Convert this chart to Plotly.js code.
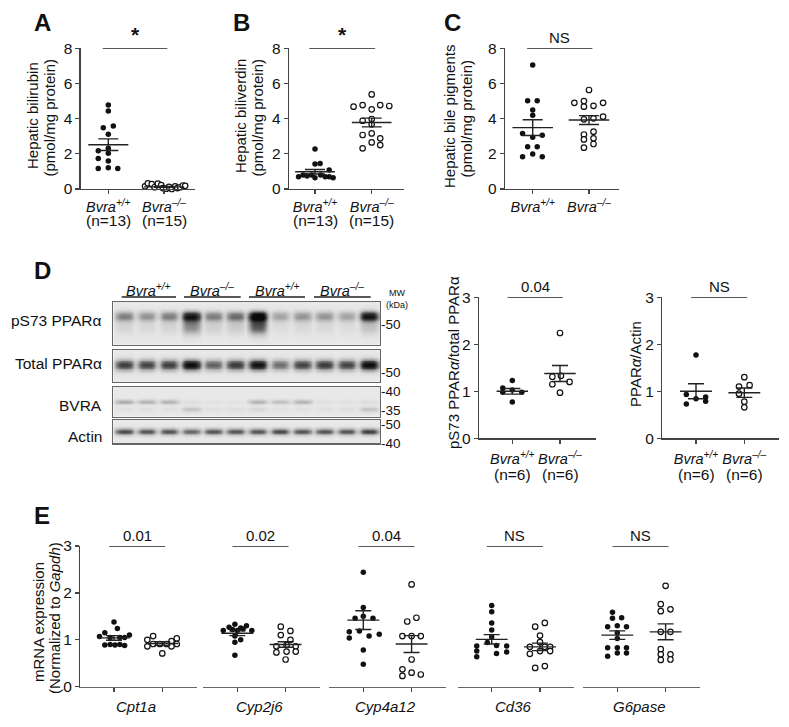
<!DOCTYPE html>
<html><head><meta charset="utf-8">
<script src="https://cdn.plot.ly/plotly-3.0.1.min.js"></script>
<style>body{margin:0;background:#fff}#chart{width:789px;height:727px}</style>
</head><body><div id="chart"></div>
<script>
// ---------------- DATA ----------------
const catLabels = ['<i>Bvra<sup>+/+</sup></i>', '<i>Bvra<sup>–/–</sup></i>'];

// Panel A: hepatic bilirubin
const A_wt = [4.77,4.43,3.48,3.58,3.11,2.31,2.18,2.03,1.74,1.59,1.17,1.21,1.17];
const A_wtJit = [0,0,-0.09,0.09,0,0,-0.18,0,-0.18,0,-0.18,0,0.17];
const A_ko = [0.15,0.32,0.28,0.1,0.3,0.22,0.05,0.02,0.12,0.0,0.15,0.05,0.1,0.2,0.18];
const A_koJit = [-0.34,-0.29,-0.22,-0.17,-0.11,-0.05,-0.02,0.04,0.09,0.14,0.2,0.24,0.29,0.34,0.38];
const A_mean = [2.52, 0.12], A_sem = [0.33, 0.03];
const A_n = ['(n=13)', '(n=15)'];

// Panel B: hepatic biliverdin
const B_wt = [2.27,1.42,1.45,1.08,0.7,0.8,0.74,0.8,0.64,0.8,0.7,0.7,0.64];
const B_wtJit = [0,0,0.09,0.25,-0.29,-0.21,-0.14,-0.06,0,0.1,0.18,0.25,0.32];
const B_ko = [5.38,4.68,4.77,4.53,4.77,4.72,3.88,3.98,3.68,3.07,3.16,2.88,2.65,2.5,2.31];
const B_koJit = [0,-0.32,-0.16,0,0.15,0.31,-0.16,0,0,-0.16,0,0.15,0,0.15,-0.16];
const B_mean = [0.98, 3.78], B_sem = [0.13, 0.25];
const B_n = ['(n=13)', '(n=15)'];

// Panel C: hepatic bile pigments
const C_wt = [7.05,5.02,5.02,4.49,4.2,3.16,2.94,3.05,2.40,2.40,1.84,1.99,1.84];
const C_wtJit = [0,-0.09,0.08,0,0,-0.18,0,0.17,-0.09,0.08,-0.18,0,0.17];
const C_ko = [5.63,4.9,5.0,4.68,4.73,4.9,3.96,4.02,4.11,3.1,3.26,2.82,2.88,2.35,2.56];
const C_koJit = [0,-0.26,-0.09,-0.09,0.08,0.25,-0.09,0.08,0.25,-0.09,0.08,-0.09,0.08,-0.09,0.08];
const C_mean = [3.49, 3.92], C_sem = [0.45, 0.25];

// Panel D quantification
const D1_wt = [1.23,1.07,0.98,1.03,0.98,0.77];
const D1_wtJit = [0,-0.2,-0.2,0,0.2,0];
const D1_ko = [2.24,1.31,1.33,1.2,1.15,0.97];
const D1_koJit = [0,-0.16,0.02,0.2,-0.16,0];
const D1_mean = [1.0, 1.38], D1_sem = [0.06, 0.17];
const D2_wt = [1.77,0.73,0.84,0.79,0.93,0.88];
const D2_wtJit = [0,-0.2,0,0.2,-0.2,0.2];
const D2_ko = [1.3,1.1,1.13,0.95,0.78,0.66];
const D2_koJit = [0,-0.11,0.11,-0.11,0,0];
const D2_mean = [1.0, 0.97], D2_sem = [0.16, 0.1];
const D_n = ['(n=6)', '(n=6)'];

// Western blot lane intensities (12 lanes: WT x3, KO x3, WT x3, KO x3)
const blotRows = ['pS73 PPARα', 'Total PPARα', 'BVRA', 'Actin'];
const pS73Band  = [0.42,0.35,0.42, 0.8,0.42,0.48, 0.95,0.3,0.35, 0.35,0.3,0.85];
const pS73Smear = [0.1,0.08,0.1, 0.42,0.12,0.15, 0.6,0.06,0.08, 0.08,0.06,0.2];
const totalBand = [0.68,0.66,0.68, 0.95,0.55,0.7, 0.92,0.5,0.66, 0.7,0.66,0.95];
const bvraBand  = [0.32,0.28,0.28, 0.05,0.03,0.03, 0.28,0.22,0.28, 0.04,0.04,0.06];
const bvraLower = [0.04,0.04,0.04, 0.18,0.04,0.04, 0.08,0.04,0.04, 0.04,0.04,0.18];
const actinBand = [0.62,0.58,0.58, 0.52,0.58,0.58, 0.58,0.62,0.58, 0.58,0.58,0.65];
const blotGroups = ['<i>Bvra<sup>+/+</sup></i>','<i>Bvra<sup>–/–</sup></i>','<i>Bvra<sup>+/+</sup></i>','<i>Bvra<sup>–/–</sup></i>'];

// Panel E: mRNA expression
const genes = ['Cpt1a','Cyp2j6','Cyp4a12','Cd36','G6pase'];
const E_pvals = ['0.01','0.02','0.04','NS','NS'];
const E_wt = [
  [1.38,1.24,1.15,1.07,1.05,1.05,1.1,1.05,0.89,0.9,0.89,0.9,0.88],
  [1.33,1.27,1.25,1.3,1.2,1.2,1.22,1.2,1.23,1.08,1.0,0.95,0.67],
  [2.44,1.69,1.46,1.5,1.46,1.17,1.19,1.04,1.08,1.12,0.78,0.48],
  [1.73,1.6,1.36,1.21,1.06,0.94,0.87,0.88,0.87,0.76,0.71,0.74,0.64],
  [1.59,1.46,1.47,1.28,1.3,1.28,1.15,1.03,0.83,0.83,0.83,0.65,0.72,0.72]
];
const E_wtJit = [
  [0,0.07,-0.19,-0.3,-0.08,0.12,0.32,0.22,-0.19,-0.08,0.02,0.12,0.22],
  [-0.05,-0.17,0.07,0.19,-0.29,0.3,-0.1,0,0.12,-0.05,0.07,-0.05,-0.05],
  [0,0,-0.17,0,0.2,-0.29,-0.08,-0.29,0.12,0.33,0,0],
  [0,0,0,0,0,-0.09,-0.31,0.1,0.31,-0.31,0.1,0.31,-0.31],
  [-0.1,-0.1,0.09,-0.2,0,0.19,0,0,-0.2,0,0.19,-0.2,0,0.19]
];
const E_ko = [
  [1.08,1.0,0.97,1.03,0.86,0.91,0.91,0.91,0.86,0.91,0.71],
  [1.28,1.19,1.1,1.0,0.86,0.89,0.86,0.73,0.75,0.75,0.58],
  [2.18,1.39,1.47,1.08,1.08,1.08,0.58,0.37,0.23,0.3,0.26],
  [1.28,1.36,1.09,0.95,0.85,0.85,0.85,0.7,0.76,0.76,0.4,0.44],
  [2.15,1.76,1.61,1.65,1.17,1.17,0.8,0.69,0.57,0.69,0.58]
];
const E_koJit = [
  [-0.19,-0.31,0.19,0.3,-0.31,-0.19,-0.05,0.09,0.19,0.3,0],
  [-0.1,0.1,-0.1,0.1,-0.19,0.02,0.21,-0.19,0.02,0.21,0],
  [0,-0.09,0.1,-0.19,0,0.19,0,-0.19,-0.19,0,0.19],
  [-0.1,0.1,0,0,-0.21,0.1,0.21,-0.21,0,0.21,-0.1,0.1],
  [0,-0.1,-0.1,0.1,-0.1,0.1,-0.1,-0.1,-0.1,0.1,0.1]
];
const E_mean = [[1.04,0.92],[1.14,0.90],[1.42,0.91],[1.01,0.85],[1.10,1.17]];
const E_sem  = [[0.05,0.04],[0.05,0.06],[0.2,0.18],[0.1,0.08],[0.09,0.17]];

// ---------------- LAYOUT HELPERS ----------------
const W = 789, H = 727;
const FX = p => p / W, FY = p => 1 - p / H;
const FONT = 'Liberation Sans, Arial, sans-serif';
const AX = '#444';
const traces = [], annotations = [], shapes = [];
const layout = {
  width: W, height: H, margin: {l:0, r:0, t:0, b:0},
  paper_bgcolor: '#fff', plot_bgcolor: 'rgba(0,0,0,0)', showlegend: false,
  font: {family: FONT, size: 14, color: '#111'}
};

function ann(text, x, y, opts) {
  annotations.push(Object.assign({text, x: FX(x), y: FY(y), xref: 'paper', yref: 'paper',
    showarrow: false, xanchor: 'center', yanchor: 'middle', font: {family: FONT, size: 14, color: '#111'}}, opts || {}));
}

function xAxisCfg(left, right, range, anchor, ticktext, standoff) {
  const c = {domain: [FX(left), FX(right)], range, anchor, showline: true, linecolor: AX, linewidth: 1.3,
    ticks: 'outside', ticklen: 4, tickwidth: 1.3, tickcolor: AX, tickvals: [0, 1], showgrid: false, zeroline: false,
    fixedrange: true, tickfont: {family: FONT, size: 14.5, color: '#111'}};
  if (ticktext) { c.ticktext = ticktext; } else { c.showticklabels = false; }
  if (standoff) c.ticklabelstandoff = standoff;
  return c;
}
function yAxisCfg(top, bottom, ymax, dtick, anchor) {
  return {domain: [FY(bottom), FY(top)], range: [0, ymax], anchor, showline: true, linecolor: AX, linewidth: 1.3,
    ticks: 'outside', ticklen: 4, tickwidth: 1.3, tickcolor: AX, dtick, tick0: 0, showgrid: false, zeroline: false,
    fixedrange: true, tickfont: {family: FONT, size: 15.5, color: '#111'}};
}

function addGroups(xa, ya, wt, wtJit, ko, koJit, means, sems, half, cap, ymaxSig, sigText, sigFont) {
  traces.push({type: 'scatter', mode: 'markers', xaxis: xa, yaxis: ya, cliponaxis: false,
    x: wt.map((v, i) => 0 + wtJit[i]), y: wt, marker: {color: '#111', size: 5.5, line: {width: 0}}});
  traces.push({type: 'scatter', mode: 'markers', xaxis: xa, yaxis: ya, cliponaxis: false,
    x: ko.map((v, i) => 1 + koJit[i]), y: ko, marker: {color: '#fff', size: 5.5, line: {color: '#111', width: 1.2}}});
  traces.push({type: 'scatter', mode: 'markers', xaxis: xa, yaxis: ya, cliponaxis: false,
    x: [0, 1], y: means, marker: {size: 1, opacity: 0},
    error_x: {type: 'constant', value: half, width: 0, thickness: 1.4, color: '#222'},
    error_y: {type: 'data', array: sems, width: cap, thickness: 1.4, color: '#222'}});
  traces.push({type: 'scatter', mode: 'lines', xaxis: xa, yaxis: ya, cliponaxis: false,
    x: [-0.1, 1.06], y: [ymaxSig, ymaxSig], line: {color: '#222', width: 1.4}});
  annotations.push({text: sigText, xref: xa, yref: ya, x: 0.48, y: ymaxSig, yanchor: 'bottom', xanchor: 'center',
    showarrow: false, yshift: 0, font: {family: FONT, size: sigFont || 15, color: '#111'}});
}

// ----- Panels A, B, C, D1, D2 -----
const sp = [
  {id: '', yl: 80.7, xr: 195, yt: 48.3, yb: 189, c0: 108.3, step: 55.7, ymax: 8, dtick: 2,
   d: [A_wt, A_wtJit, A_ko, A_koJit, A_mean, A_sem], half: 0.36, cap: 10, sig: '<b>*</b>', sigF: 21, n: A_n, nY: 220},
  {id: '2', yl: 289, xr: 404, yt: 48.3, yb: 189, c0: 315, step: 56.7, ymax: 8, dtick: 2,
   d: [B_wt, B_wtJit, B_ko, B_koJit, B_mean, B_sem], half: 0.35, cap: 10, sig: '<b>*</b>', sigF: 21, n: B_n, nY: 220},
  {id: '3', yl: 505, xr: 619, yt: 48.3, yb: 189, c0: 532.7, step: 56.3, ymax: 8, dtick: 2,
   d: [C_wt, C_wtJit, C_ko, C_koJit, C_mean, C_sem], half: 0.36, cap: 10, sig: 'NS', sigF: 15},
  {id: '4', yl: 479, xr: 596, yt: 297.3, yb: 438.3, c0: 512.3, step: 47.7, ymax: 3, dtick: 1,
   d: [D1_wt, D1_wtJit, D1_ko, D1_koJit, D1_mean, D1_sem], half: 0.33, cap: 8, sig: '0.04', sigF: 15, n: D_n, nY: 475, so: 3},
  {id: '5', yl: 662.3, xr: 779.3, yt: 297.3, yb: 438.3, c0: 696, step: 48.3, ymax: 3, dtick: 1,
   d: [D2_wt, D2_wtJit, D2_ko, D2_koJit, D2_mean, D2_sem], half: 0.33, cap: 8, sig: 'NS', sigF: 15, n: D_n, nY: 475, so: 3}
];
sp.forEach(p => {
  const xr = [(p.yl - p.c0) / p.step, (p.xr - p.c0) / p.step];
  layout['xaxis' + p.id] = xAxisCfg(p.yl, p.xr, xr, 'y' + p.id, catLabels, p.so);
  layout['yaxis' + p.id] = yAxisCfg(p.yt, p.yb, p.ymax, p.dtick, 'x' + p.id);
  addGroups('x' + p.id, 'y' + p.id, ...p.d, p.half, p.cap, p.ymax, p.sig, p.sigF);
  if (p.n) p.n.forEach((t, i) => ann(t, p.c0 + i * p.step, p.nY, {font: {family: FONT, size: 15.5, color: '#111'}}));
});

// ----- Panel E -----
const eC0 = [114, 237.3, 363.3, 491.7, 617.3], eStep = 48.3, eRange = [-0.70, 1.71];
layout.yaxis6 = yAxisCfg(546, 686.7, 3, 1, 'x6');
genes.forEach((g, i) => {
  const id = 6 + i;
  const left = eC0[i] + eRange[0] * eStep, right = eC0[i] + eRange[1] * eStep;
  layout['xaxis' + id] = xAxisCfg(left, right, eRange, 'y6', null);
  layout['xaxis' + id].linecolor = '#666';
  addGroups('x' + id, 'y6', E_wt[i], E_wtJit[i], E_ko[i], E_koJit[i], E_mean[i], E_sem[i], 0.33, 8, 3, E_pvals[i], 15);
  ann('<i>' + g + '</i>', eC0[i] + 0.45 * eStep, 706.7, {font: {family: FONT, size: 15, color: '#111'}});
});

// ----- Western blot heatmaps -----
function gauss(y, c, s) { return Math.exp(-0.5 * Math.pow((y - c) / s, 2)); }
function laneShape(u) { return Math.exp(-Math.pow((u - 0.5) / 0.44, 4)); }
function blotZ(bands, nRows) {
  const sub = 10, xs = [], ys = [], z = [];
  for (let l = 0; l < 12; l++) for (let k = 0; k < sub; k++) xs.push(l + (k + 0.5) / sub);
  for (let r = 0; r < nRows; r++) {
    const y = (r + 0.5) / nRows; ys.push(y);
    const row = [];
    for (let l = 0; l < 12; l++) for (let k = 0; k < sub; k++) {
      const u = (k + 0.5) / sub;
      let v = 0.06;
      bands.forEach(b => { v += b.int[l] * gauss(y, b.c, b.s) * laneShape(u); });
      row.push(Math.min(1, v));
    }
    z.push(row);
  }
  return {x: xs, y: ys, z};
}
const blotBoxes = [
  {top: 301.7, bottom: 345, bands: [{int: pS73Band, c: 0.33, s: 0.08}, {int: pS73Smear, c: 0.55, s: 0.14}], labY: 320},
  {top: 350, bottom: 381.7, bands: [{int: totalBand, c: 0.47, s: 0.12}], labY: 363},
  {top: 386.7, bottom: 416.7, bands: [{int: bvraBand, c: 0.5, s: 0.05}, {int: bvraLower, c: 0.75, s: 0.06}], labY: 405},
  {top: 420, bottom: 443.3, bands: [{int: actinBand, c: 0.5, s: 0.1}], labY: 436.7}
];
blotBoxes.forEach((b, i) => {
  const id = 11 + i;
  const hz = blotZ(b.bands, 40);
  traces.push({type: 'heatmap', xaxis: 'x' + id, yaxis: 'y' + id, x: hz.x, y: hz.y, z: hz.z, zmin: 0, zmax: 1,
    zsmooth: 'best', showscale: false, hoverinfo: 'skip',
    colorscale: [[0, '#f4f4f4'], [0.3, '#b8b8b8'], [0.7, '#454545'], [1, '#0a0a0a']]});
  const axc = {showline: true, mirror: true, linecolor: '#666', linewidth: 1.2, ticks: '', showticklabels: false,
    showgrid: false, zeroline: false, fixedrange: true};
  layout['xaxis' + id] = Object.assign({domain: [FX(113.3), FX(380)], range: [0, 12], anchor: 'y' + id}, axc);
  layout['yaxis' + id] = Object.assign({domain: [FY(b.bottom), FY(b.top)], range: [1, 0], anchor: 'x' + id}, axc);
  ann(blotRows[i], 104, b.labY, {xanchor: 'right', font: {family: FONT, size: 15.5, color: '#111'}});
});
// group labels above blot
const grpX = [[121.7, 176], [184, 240.7], [249, 305], [314, 370.7]];
grpX.forEach((g, i) => {
  ann(blotGroups[i], (g[0] + g[1]) / 2, 290, {font: {family: FONT, size: 14.5, color: '#111'}});
  shapes.push({type: 'line', xref: 'paper', yref: 'paper', x0: FX(g[0]), x1: FX(g[1]), y0: FY(297), y1: FY(297),
    line: {color: '#222', width: 1.4}});
});
// MW markers
ann('MW', 397, 293, {font: {family: FONT, size: 9, color: '#111'}});
ann('(kDa)', 397, 305, {font: {family: FONT, size: 9, color: '#111'}});
[['-50', 324], ['-50', 373], ['-40', 391], ['-35', 410], ['-50', 424], ['-40', 443.5]].forEach(m =>
  ann(m[0], 379, m[1], {xanchor: 'left', font: {family: FONT, size: 13.5, color: '#111'}}));

// ----- Axis titles (y) -----
const rot = {textangle: -90, font: {family: FONT, size: 15, color: '#111'}};
ann('Hepatic bilirubin', 33, 116, rot);
ann('(pmol/mg protein)', 48.5, 118, rot);
ann('Hepatic biliverdin', 241, 116, rot);
ann('(pmol/mg protein)', 256.5, 118, rot);
ann('Hepatic bile pigments', 450, 117, rot);
ann('(pmol/mg protein)', 465.5, 118, rot);
ann('pS73 PPAR<i>α</i>/total PPARα', 453, 363, rot);
ann('PPAR<i>α</i>/Actin', 635, 364, rot);
ann('mRNA expression', 38, 622, rot);
ann('(Normalized to <i>Gapdh</i>)', 54, 618, rot);

// ----- Panel letters -----
const bold = {font: {family: FONT, size: 24, color: '#111'}};
[['A', 42, 23], ['B', 242, 23], ['C', 452, 22], ['D', 42, 270], ['E', 42, 515]].forEach(l =>
  ann('<b>' + l[0] + '</b>', l[1], l[2], bold));

layout.annotations = annotations;
layout.shapes = shapes;
Plotly.newPlot('chart', traces, layout, {staticPlot: true, displayModeBar: false});
</script></body></html>
